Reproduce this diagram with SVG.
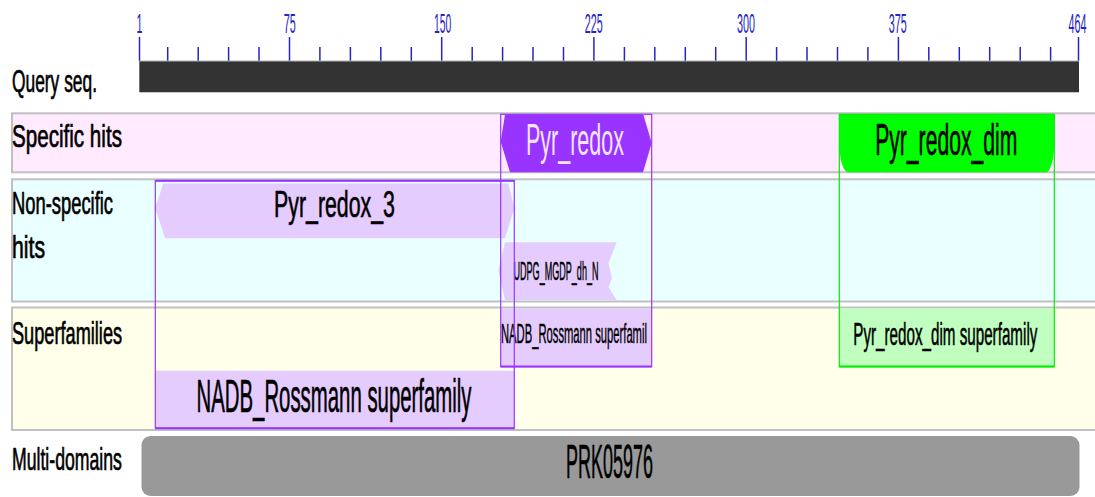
<svg xmlns="http://www.w3.org/2000/svg" width="1095" height="497" viewBox="0 0 1095 497">
<style>
text{font-family:"Liberation Sans",Arial,sans-serif;}
.lbl{font-size:32px;fill:#000;stroke:#000;stroke-width:0.7}
.num{font-size:28px;fill:#2424c8;text-anchor:middle}
.tk{stroke:#2424c8;stroke-width:1.5}
.band{stroke:#c0c0c0;stroke-width:2}
.dom{text-anchor:middle;fill:#000;stroke:#000;stroke-width:0.6}
.pf{fill:#e5ccff}
.pframe{fill:none;stroke:#9933ff;stroke-width:1.2}
.gframe{fill:none;stroke:#00ee00;stroke-width:1.2}
</style>

<rect x="0" y="0" width="1095" height="497" fill="#ffffff"/>

<g id="ruler">
<text class="num" transform="translate(139.5,33.3) scale(0.385,1)">1</text>
<text class="num" transform="translate(289.7,33.3) scale(0.385,1)">75</text>
<text class="num" transform="translate(442.7,33.3) scale(0.37,1)">150</text>
<text class="num" transform="translate(593.7,33.3) scale(0.385,1)">225</text>
<text class="num" transform="translate(746,33.3) scale(0.385,1)">300</text>
<text class="num" transform="translate(897.7,33.3) scale(0.385,1)">375</text>
<text class="num" transform="translate(1077.5,33.3) scale(0.385,1)">464</text>
<g class="tk">
<line x1="139.5" y1="37" x2="139.5" y2="61"/>
<line x1="167.7" y1="47" x2="167.7" y2="61"/>
<line x1="198.2" y1="47" x2="198.2" y2="61"/>
<line x1="228.6" y1="47" x2="228.6" y2="61"/>
<line x1="259" y1="47" x2="259" y2="61"/>
<line x1="289.5" y1="37" x2="289.5" y2="61"/>
<line x1="319.9" y1="47" x2="319.9" y2="61"/>
<line x1="350.4" y1="47" x2="350.4" y2="61"/>
<line x1="380.8" y1="47" x2="380.8" y2="61"/>
<line x1="411.3" y1="47" x2="411.3" y2="61"/>
<line x1="441.7" y1="37" x2="441.7" y2="61"/>
<line x1="472.2" y1="47" x2="472.2" y2="61"/>
<line x1="502.6" y1="47" x2="502.6" y2="61"/>
<line x1="533" y1="47" x2="533" y2="61"/>
<line x1="563.5" y1="47" x2="563.5" y2="61"/>
<line x1="593.9" y1="37" x2="593.9" y2="61"/>
<line x1="624.4" y1="47" x2="624.4" y2="61"/>
<line x1="654.8" y1="47" x2="654.8" y2="61"/>
<line x1="685.3" y1="47" x2="685.3" y2="61"/>
<line x1="715.7" y1="47" x2="715.7" y2="61"/>
<line x1="746.2" y1="37" x2="746.2" y2="61"/>
<line x1="776.6" y1="47" x2="776.6" y2="61"/>
<line x1="807" y1="47" x2="807" y2="61"/>
<line x1="837.5" y1="47" x2="837.5" y2="61"/>
<line x1="867.9" y1="47" x2="867.9" y2="61"/>
<line x1="898.4" y1="37" x2="898.4" y2="61"/>
<line x1="928.8" y1="47" x2="928.8" y2="61"/>
<line x1="959.3" y1="47" x2="959.3" y2="61"/>
<line x1="989.7" y1="47" x2="989.7" y2="61"/>
<line x1="1020.2" y1="47" x2="1020.2" y2="61"/>
<line x1="1050.6" y1="47" x2="1050.6" y2="61"/>
<line x1="1078.5" y1="37" x2="1078.5" y2="61"/>
</g>
</g>

<g id="query">
<text class="lbl" transform="translate(12,91.7) scale(0.543,1)" textLength="156.5" lengthAdjust="spacingAndGlyphs">Query seq.</text>
<rect x="139.3" y="61" width="939.7" height="31" fill="#333333"/>
<line x1="139.3" y1="61" x2="1079" y2="61" stroke="#b0b0b0" stroke-width="1"/>
<line x1="139.3" y1="92.5" x2="1079" y2="92.5" stroke="#c8c8c8" stroke-width="1"/>
</g>

<g id="bands">
<rect class="band" x="12" y="113.3" width="1090" height="59" fill="#ffeaff"/>
<rect class="band" x="12" y="179.3" width="1090" height="122.2" fill="#eaffff"/>
<rect class="band" x="12" y="307.5" width="1090" height="122.5" fill="#ffffea"/>
<text class="lbl" transform="translate(12,146.7) scale(0.644,1)" textLength="170.7" lengthAdjust="spacingAndGlyphs">Specific hits</text>
<text class="lbl" transform="translate(12,214) scale(0.574,1)" textLength="176" lengthAdjust="spacingAndGlyphs">Non-specific</text>
<text class="lbl" transform="translate(12,258.3) scale(0.663,1)" textLength="49.8" lengthAdjust="spacingAndGlyphs">hits</text>
<text class="lbl" transform="translate(12,344.3) scale(0.568,1)" textLength="193.8" lengthAdjust="spacingAndGlyphs">Superfamilies</text>
<text class="lbl" transform="translate(12,470) scale(0.552,1)" textLength="199.1" lengthAdjust="spacingAndGlyphs">Multi-domains</text>
</g>

<g id="nadb-large">
<rect class="pf" x="155.3" y="370.7" width="359" height="57.6"/>
<text class="dom" font-size="46" transform="translate(334,411.7) scale(0.443,1)" textLength="621" lengthAdjust="spacingAndGlyphs">NADB_Rossmann superfamily</text>
</g>

<g id="pyr-redox-3">
<polygon class="pf" points="163.3,183.5 508.3,183.5 514.3,208 505,238.3 165,238.3 155.3,208"/>
<text class="dom" font-size="36" transform="translate(334.5,216.5) scale(0.593,1)" textLength="204" lengthAdjust="spacingAndGlyphs">Pyr_redox_3</text>
</g>

<g id="pyr-redox">
<polygon points="505,114.5 643.3,114.5 651.7,143 643,172.3 510,172.3 500.7,141.7" fill="#9933ff"/>
<text font-size="44" text-anchor="middle" fill="#f2e6ff" transform="translate(575,155) scale(0.489,1)" textLength="200.5" lengthAdjust="spacingAndGlyphs">Pyr_redox</text>
</g>

<g id="udpg">
<polygon class="pf" points="505,242.3 616.7,242.3 608.5,263 612,278 608.5,287 616.7,300 505,300 498.3,271"/>
<text class="dom" font-size="25" style="stroke-width:0.5" transform="translate(556,280) scale(0.362,1)" textLength="234.8" lengthAdjust="spacingAndGlyphs">UDPG_MGDP_dh_N</text>
</g>

<g id="nadb-small">
<rect class="pf" x="500.7" y="308.5" width="151" height="58.2"/>
<text font-size="28" fill="#000" stroke="#000" stroke-width="0.5" transform="translate(501,342.7) scale(0.401,1)" textLength="364" lengthAdjust="spacingAndGlyphs">NADB_Rossmann superfamil</text>
</g>

<g id="pyr-redox-dim">
<path d="M839.3,114.3 H1054.3 V141.7 C1054.3,160 1050,172.3 1046,172.3 H848.3 C843.6,172.3 839.3,160 839.3,141.7 Z" fill="#00ff00"/>
<text class="dom" font-size="44" transform="translate(946.2,155) scale(0.48,1)" textLength="296" lengthAdjust="spacingAndGlyphs">Pyr_redox_dim</text>
</g>

<g id="pyr-redox-dim-sf">
<rect x="839.3" y="308.5" width="215" height="58.2" fill="#c0ffc0"/>
<text class="dom" font-size="32" transform="translate(945.3,345) scale(0.475,1)" textLength="387.6" lengthAdjust="spacingAndGlyphs">Pyr_redox_dim superfamily</text>
</g>

<g id="prk05976">
<rect x="141.5" y="436" width="938" height="60" rx="9" ry="9" fill="#999999"/>
<text class="dom" font-size="48" transform="translate(609.6,478.3) scale(0.375,1)" textLength="232" lengthAdjust="spacingAndGlyphs">PRK05976</text>
</g>

<g id="connectors">
<rect class="pframe" x="155.3" y="180.7" width="359" height="247.6"/>
<line x1="155.3" y1="180.7" x2="514.3" y2="180.7" stroke="#9933ff" stroke-width="2"/>
<line x1="155.3" y1="428.3" x2="514.3" y2="428.3" stroke="#9933ff" stroke-width="2"/>
<rect class="pframe" x="500.7" y="114.3" width="151" height="252.4"/>
<line x1="500.7" y1="366.5" x2="651.7" y2="366.5" stroke="#9933ff" stroke-width="2"/>
<rect class="gframe" x="839.3" y="114.3" width="215" height="252.4"/>
<line x1="839.3" y1="366.5" x2="1054.3" y2="366.5" stroke="#00ee00" stroke-width="2"/>
</g>
</svg>
